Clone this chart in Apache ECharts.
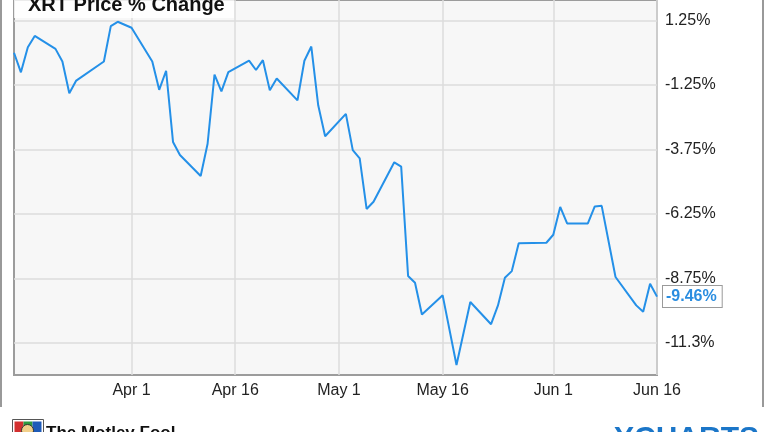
<!DOCTYPE html>
<html>
<head>
<meta charset="utf-8">
<script src="https://cdn.jsdelivr.net/npm/echarts@6/dist/echarts.min.js"></script>
<style>
html,body{margin:0;padding:0;background:#fff;}
#chart{width:764px;height:432px;}
</style>
</head>
<body>
<div id="chart"></div>
<script>
// ---- data ----
const dates = [
  '2016-03-15','2016-03-16','2016-03-17','2016-03-18','2016-03-21','2016-03-22','2016-03-23','2016-03-24',
  '2016-03-28','2016-03-29','2016-03-30','2016-04-01',
  '2016-04-04','2016-04-05','2016-04-06','2016-04-07','2016-04-08',
  '2016-04-11','2016-04-12','2016-04-13','2016-04-14','2016-04-15',
  '2016-04-18','2016-04-19','2016-04-20','2016-04-21','2016-04-22',
  '2016-04-25','2016-04-26','2016-04-27','2016-04-28','2016-04-29',
  '2016-05-02','2016-05-03','2016-05-04','2016-05-05','2016-05-06',
  '2016-05-09','2016-05-10','2016-05-11','2016-05-12','2016-05-13',
  '2016-05-16','2016-05-18','2016-05-20',
  '2016-05-23','2016-05-24','2016-05-25','2016-05-26','2016-05-27',
  '2016-05-31','2016-06-01','2016-06-02','2016-06-03',
  '2016-06-06','2016-06-07','2016-06-08','2016-06-10',
  '2016-06-13','2016-06-14','2016-06-15','2016-06-16'
];
const pctChange = [
  0.00, -0.76, 0.21, 0.65, 0.15, -0.34, -1.57, -1.08,
  -0.34, 1.03, 1.20, 0.97,
  -0.34, -1.44, -0.70, -3.46, -3.97,
  -4.78, -3.53, -0.85, -1.50, -0.75,
  -0.31, -0.67, -0.29, -1.46, -1.00,
  -1.85, -0.31, 0.24, -2.04, -3.24,
  -2.37, -3.78, -4.10, -6.06, -5.78,
  -4.25, -4.42, -8.66, -8.92, -10.15,
  -9.41, -12.11, -9.67,
  -10.53, -9.80, -8.73, -8.47, -7.39,
  -7.37, -7.06, -5.98, -6.62,
  -6.62, -5.96, -5.94, -8.70,
  -9.80, -10.05, -8.96, -9.46
];
const xTickDates = ['2016-04-01','2016-04-16','2016-05-01','2016-05-16','2016-06-01','2016-06-16'];
const xTickLabels = ['Apr 1','Apr 16','May 1','May 16','Jun 1','Jun 16'];
const xRange = ['2016-03-15','2016-06-16'];
const yTickValues = [1.25, -1.25, -3.75, -6.25, -8.75, -11.25];
const yTickLabels = ['1.25%','-1.25%','-3.75%','-6.25%','-8.75%','-11.3%'];
const titleText = 'XRT Price % Change';

// ---- chart ----
// dates -> day numbers (UTC days) for a linear value axis
const dayNum = s => { const p = s.split('-').map(Number); return Date.UTC(p[0], p[1] - 1, p[2]) / 86400000; };
const seriesData = dates.map((d, i) => [dayNum(d), pctChange[i]]);
const xTickNums = xTickDates.map(dayNum);
const LINE = '#2490e8';

const chart = echarts.init(document.getElementById('chart'), null, {renderer: 'canvas'});
chart.setOption({
  animation: false,
  backgroundColor: '#ffffff',
  grid: {
    left: 14, right: 107, top: -2, bottom: 57,
    show: true, backgroundColor: '#f7f7f7',
    borderColor: '#9c9c9c', borderWidth: 2
  },
  xAxis: {
    type: 'value',
    min: dayNum(xRange[0]),
    max: dayNum(xRange[1]),
    axisLine: {show: false},
    axisTick: {show: false, customValues: xTickNums},
    splitLine: {show: true, lineStyle: {color: '#dcdcdc', width: 1.5}},
    axisLabel: {
      customValues: xTickNums,
      margin: 8,
      color: '#222',
      fontSize: 16,
      fontFamily: '"Liberation Sans Narrow", "Arial Narrow", "Liberation Sans", Arial, sans-serif',
      showMinLabel: true, showMaxLabel: true,
      formatter: function (v) {
        const i = xTickNums.findIndex(t => Math.abs(t - v) < 1e-6);
        return i >= 0 ? xTickLabels[i] : '';
      }
    }
  },
  yAxis: {
    type: 'value',
    position: 'right',
    min: -12.5,
    max: 2.045,
    axisLine: {show: false},
    axisTick: {show: false, customValues: yTickValues},
    splitLine: {show: true, lineStyle: {color: '#dcdcdc', width: 1.5}},
    axisLabel: {
      customValues: yTickValues,
      margin: 8,
      color: '#222',
      fontSize: 16,
      fontFamily: '"Liberation Sans", Arial, sans-serif',
      formatter: function (v) {
        const i = yTickValues.findIndex(t => Math.abs(t - v) < 1e-6);
        return i >= 0 ? yTickLabels[i] : '';
      }
    }
  },
  series: [{
    type: 'line',
    data: seriesData,
    showSymbol: false,
    symbol: 'none',
    lineStyle: {color: LINE, width: 2},
    itemStyle: {color: LINE},
    endLabel: {
      show: true,
      distance: 6,
      formatter: p => p.value[1].toFixed(2) + '%',
      color: '#2a8de0',
      fontWeight: 'bold',
      fontSize: 16,
      fontFamily: '"Liberation Sans", Arial, sans-serif',
      backgroundColor: '#ffffff',
      borderColor: '#9a9a9a',
      borderWidth: 1,
      padding: [3, 5, 2, 3]
    }
  }],
  graphic: [
    {type: 'rect', left: 0, top: 0, shape: {width: 2, height: 407}, style: {fill: '#999'}, silent: true},
    {type: 'rect', left: 762, top: 0, shape: {width: 2, height: 407}, style: {fill: '#999'}, silent: true},
    {type: 'rect', left: 14, top: 0, shape: {width: 220, height: 18}, style: {fill: 'rgba(255,255,255,0.8)'}, z: 10, silent: true},
    {type: 'text', left: 28, top: -5, z: 11, silent: true,
      style: {text: titleText, fill: '#111', font: 'bold 20px "Liberation Sans", Arial, sans-serif'}},
    {type: 'group', left: 12, top: 419, z: 5, silent: true, children: [
      {type: 'rect', shape: {x: 0, y: 0, width: 31, height: 16}, style: {fill: '#fff', stroke: '#555', lineWidth: 1}},
      {type: 'rect', shape: {x: 2, y: 2, width: 9, height: 14}, style: {fill: '#d32f2f'}},
      {type: 'rect', shape: {x: 11, y: 2, width: 9, height: 14}, style: {fill: '#2e9b3e'}},
      {type: 'rect', shape: {x: 20, y: 2, width: 9, height: 14}, style: {fill: '#1e5bb8'}},
      {type: 'circle', shape: {cx: 15, cy: 11, r: 6}, style: {fill: '#f2d08a', stroke: '#333', lineWidth: 1}}
    ]},
    {type: 'text', left: 46, top: 425, z: 5, silent: true,
      style: {text: 'The Motley Fool', fill: '#111', font: 'bold 17px "Liberation Sans", Arial, sans-serif'}},
    {type: 'text', left: 614, top: 424, z: 5, silent: true,
      style: {text: 'YCHARTS', fill: '#1b76c8', font: 'bold 30px "Liberation Sans", Arial, sans-serif'}}
  ]
});
</script>
</body>
</html>
